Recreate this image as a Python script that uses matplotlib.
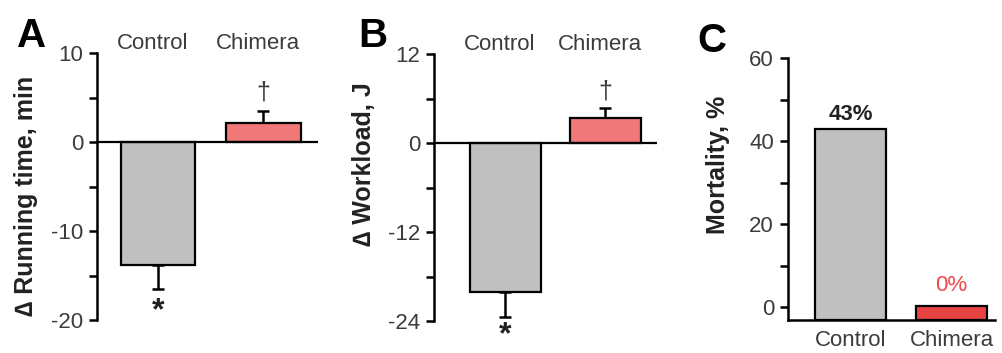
import numpy as np
import matplotlib
matplotlib.use("Agg")
import matplotlib.pyplot as plt
import matplotlib.transforms as mtransforms

plt.rcParams['font.family'] = ['Liberation Sans', 'DejaVu Sans']
plt.rcParams['axes.unicode_minus'] = False

W, H = 1002, 353

groups = ['Control', 'Chimera']

# panel A: change in running time (min)
run_vals = [-13.8, 2.1]
run_err = [2.7, 1.4]
# panel B: change in workload (J)
work_vals = [-20.1, 3.4]
work_err = [3.4, 1.3]
# panel C: mortality (%)
mort_vals = [43, 0.3]
mort_text = ['43%', '0%']

gray = '#c0c0c0'
pink = '#f07878'
red = '#e84444'
txt = '#3c3c3c'


def rect(x0, x1, ytop, ybot):
    return [x0 / W, 1 - ybot / H, (x1 - x0) / W, (ybot - ytop) / H]


def style_axis(ax, lo, hi, major, minor):
    ax.set_ylim(lo, hi)
    for s in ['top', 'right', 'bottom']:
        ax.spines[s].set_visible(False)
    ax.spines['left'].set_linewidth(1.8)
    ax.set_yticks(major)
    ax.set_yticks(minor, minor=True)
    ax.tick_params(axis='y', which='both', length=6, width=1.8, direction='out',
                   labelsize=16, labelcolor=txt, pad=4)
    ax.tick_params(axis='x', bottom=False, labelbottom=False)


def change_panel(ax, vals, errs, xlim, lo, hi, major, minor, dag_off, star_off):
    x = np.arange(len(vals))
    ax.bar(x, vals, width=0.71, color=[gray, pink], edgecolor='black', linewidth=1.6, zorder=3)
    lower = [errs[i] if vals[i] < 0 else 0 for i in range(len(vals))]
    upper = [errs[i] if vals[i] > 0 else 0 for i in range(len(vals))]
    ax.errorbar(x, vals, yerr=[lower, upper], fmt='none', ecolor='black',
                elinewidth=1.8, capsize=4.3, capthick=1.8, zorder=2)
    ax.axhline(0, color='black', linewidth=1.6, zorder=4)
    ax.set_xlim(*xlim)
    style_axis(ax, lo, hi, major, minor)
    trans = mtransforms.blended_transform_factory(ax.transData, ax.transAxes)
    for i, g in enumerate(groups):
        ax.text(x[i] - 0.05, 1.035, g, transform=trans, ha='center', va='center',
                fontsize=16, color=txt)
    # significance marks
    ax.annotate('*', xy=(x[0], vals[0] - errs[0]), xytext=(0, -star_off),
                textcoords='offset points', ha='center', va='center',
                fontsize=23, fontweight='bold', color='#222222', annotation_clip=False)
    ax.annotate('\u2020', xy=(x[1], vals[1] + errs[1]), xytext=(0, dag_off),
                textcoords='offset points', ha='center', va='center',
                fontsize=18, color=txt, annotation_clip=False)


fig = plt.figure(figsize=(W / 100, H / 100), dpi=100)

axA = fig.add_axes(rect(97, 318, 53, 320))
change_panel(axA, run_vals, run_err, (-0.58, 1.52), -20, 10,
             [-20, -10, 0, 10], [-15, -5, 5], 13, 16)

axB = fig.add_axes(rect(434, 657, 54, 321))
change_panel(axB, work_vals, work_err, (-0.71, 1.52), -24, 12,
             [-24, -12, 0, 12], [-18, -6, 6], 12, 13)

axC = fig.add_axes(rect(788, 995, 58, 320))
lo = -3.1
xc = np.arange(len(mort_vals))
axC.bar(xc, [v - lo for v in mort_vals], bottom=lo, width=0.71, color=[gray, red],
        edgecolor='black', linewidth=1.6, zorder=3)
axC.set_xlim(-0.62, 1.43)
style_axis(axC, lo, 60, [0, 20, 40, 60], [10, 30, 50])
axC.spines['bottom'].set_visible(True)
axC.spines['bottom'].set_linewidth(1.8)
axC.set_xticks(xc)
axC.set_xticklabels(groups)
axC.tick_params(axis='x', bottom=False, labelbottom=True, labelsize=16,
                labelcolor=txt, pad=4)
axC.annotate(mort_text[0], xy=(xc[0], mort_vals[0]), xytext=(0, 10),
             textcoords='offset points', ha='center', va='center',
             fontsize=16, fontweight='bold', color='#222222')
axC.annotate(mort_text[1], xy=(xc[1], mort_vals[1]), xytext=(0, 15),
             textcoords='offset points', ha='center', va='center',
             fontsize=16, color='#f04848')

# y labels
fig.text(26 / W, 1 - 196 / H, '\u2206 Running time, min', rotation=90,
         ha='center', va='center', fontsize=18, fontweight='bold', color='#222222')
fig.text(364 / W, 1 - 164 / H, '\u2206 Workload, J', rotation=90,
         ha='center', va='center', fontsize=18, fontweight='bold', color='#222222')
fig.text(718 / W, 1 - 165 / H, 'Mortality, %', rotation=90,
         ha='center', va='center', fontsize=18, fontweight='bold', color='#222222')

# panel letters
for lab, px, py in [('A', 31.5, 47), ('B', 372.5, 47), ('C', 711.5, 52)]:
    fig.text(px / W, 1 - py / H, lab, ha='center', va='baseline',
             fontsize=29, fontweight='bold', color='black')

fig.savefig('out.png', dpi=100)
